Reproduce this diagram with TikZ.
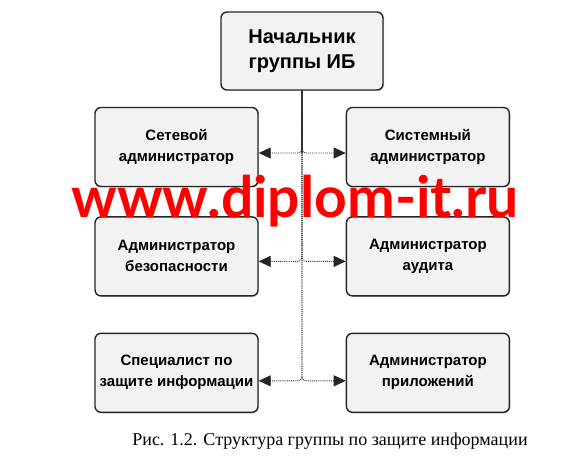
\documentclass[tikz,border=0pt]{standalone}
\usepackage{fontspec}
\setmainfont{Liberation Serif}
\newfontfamily\boxfont{Liberation Sans}
\newfontfamily\markfont{Lato}
\usetikzlibrary{positioning, arrows.meta, shadows}
\tikzset{
x=1pt, y=-1pt, % pixel-like units, y grows downwards
role/.style={draw=black!85, line width=1.4pt, rounded corners=6pt, fill=black!5,
  align=center, minimum width=163pt, minimum height=79pt,
  font=\boxfont\bfseries\fontsize{15}{21}\selectfont,
  drop shadow={shadow xshift=1pt, shadow yshift=-1pt, opacity=0.35}}, % every box
link/.style={-{Triangle[length=12pt,width=11pt]}, black!85, line width=0.9pt,
  densely dotted, rounded corners=4pt}, % head box to box
spine/.style={black!70, line width=1.1pt}, % solid part under the head box
}
\begin{document}
\begin{tikzpicture}
\useasboundingbox (0,0) rectangle (585,460);
\node[role, minimum width=162pt, minimum height=78pt,
  font=\boxfont\bfseries\fontsize{20}{25}\selectfont] (chief) at (302,51) {Начальник\\группы ИБ};
\node[role] (net) at (176.5,147) {Сетевой\\администратор};
\node[role, right=87pt of net] (sys) {Системный\\администратор};
\node[role, below=29pt of net] (sec) {Администратор\\безопасности};
\node[role, right=87pt of sec] (aud) {Администратор\\аудита};
\node[role, below=36pt of sec] (spec) {Специалист по\\защите информации};
\node[role, right=87pt of spec] (app) {Администратор\\приложений};
\coordinate (fork) at ([yshift=-6pt]net.east);
\draw[spine] (chief.south) -- (chief.south |- fork);
\draw[link] (chief) |- ([yshift=-6pt]net.east);
\draw[link] (chief) |- ([yshift=-6pt]sys.west);
\draw[link] (chief) |- ([yshift=-5pt]sec.east);
\draw[link] (chief) |- ([yshift=-5pt]aud.west);
\draw[link] (chief) |- ([yshift=-8pt]spec.east);
\draw[link] (chief) |- ([yshift=-8pt]app.west);
\node[text=red, font=\markfont\bfseries\fontsize{57}{57}\selectfont, anchor=base] (mark) at (295,217) {www.diplom-it.ru};
\node[font=\fontsize{18}{18}\selectfont, anchor=base] (caption) at (330,445) {Рис. 1.2. Структура группы по защите информации};
\end{tikzpicture}
\end{document}
